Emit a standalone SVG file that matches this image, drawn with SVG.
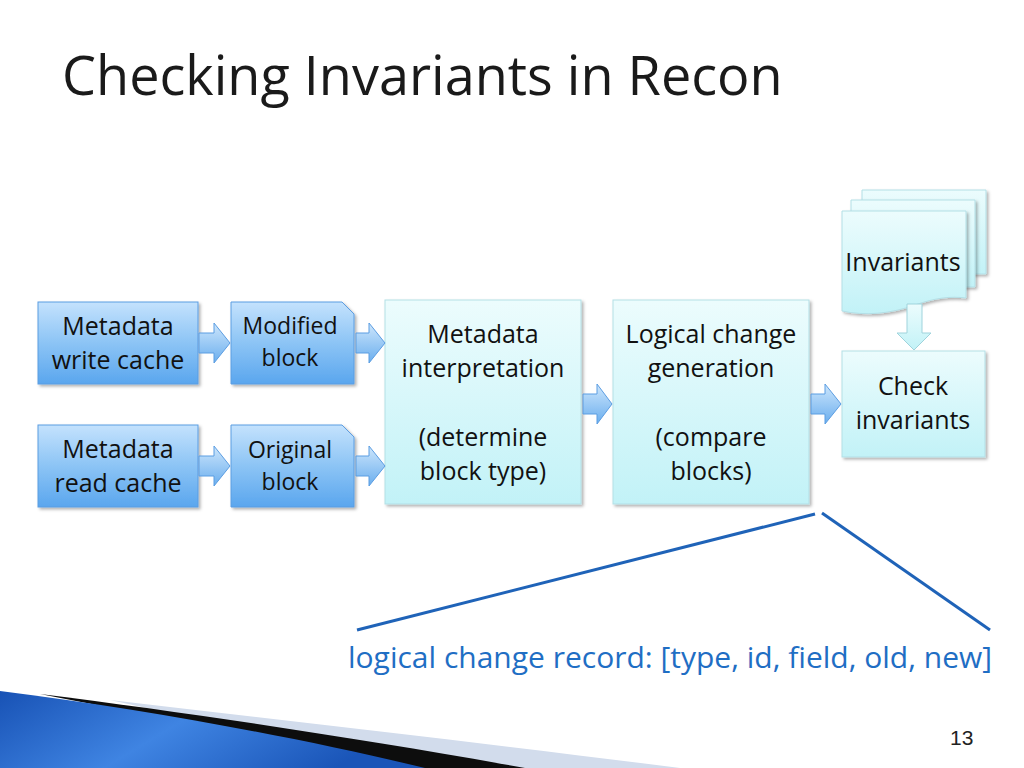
<svg xmlns="http://www.w3.org/2000/svg" width="1024" height="768" viewBox="0 0 1024 768">
<defs>
<linearGradient id="gBlue" x1="0" y1="0" x2="0" y2="1">
<stop offset="0" stop-color="#c4e2fd"/><stop offset="0.5" stop-color="#8cc4f5"/><stop offset="1" stop-color="#5aa6ee"/>
</linearGradient>
<linearGradient id="gCyan" x1="0" y1="0" x2="0" y2="1">
<stop offset="0" stop-color="#ecfcfd"/><stop offset="1" stop-color="#c2f2f7"/>
</linearGradient>
<linearGradient id="gArrow" x1="0" y1="0" x2="0" y2="1">
<stop offset="0" stop-color="#cde6fc"/><stop offset="1" stop-color="#6aaeee"/>
</linearGradient>
<linearGradient id="gSwoosh" x1="0" y1="0" x2="1" y2="0.3">
<stop offset="0" stop-color="#1852b5"/><stop offset="0.5" stop-color="#3f84e2"/><stop offset="1" stop-color="#1a55b8"/>
</linearGradient>
<filter id="sh" x="-10%" y="-10%" width="130%" height="130%">
<feDropShadow dx="2" dy="2" stdDeviation="1.5" flood-color="#000" flood-opacity="0.3"/>
</filter>
</defs>
<style>
.t{font-family:"Open Sans","Noto Sans",sans-serif;font-size:25px;fill:#111;text-anchor:middle}
.s{font-size:23px}
.blue{fill:url(#gBlue);stroke:#5b9de2;stroke-width:1;filter:url(#sh)}
.cyan{fill:url(#gCyan);stroke:#b3dfe6;stroke-width:1;filter:url(#sh)}
.arr{fill:url(#gArrow);stroke:#5b9de2;stroke-width:1}
.carr{fill:url(#gCyan);stroke:#9fd3dc;stroke-width:1}
</style>
<rect width="1024" height="768" fill="#fff"/>
<text x="62" y="95" font-family="Open Sans,Noto Sans,sans-serif" font-size="54" fill="#1a1a1a">Checking Invariants in Recon</text>

<g id="write-cache">
<rect class="blue" x="38" y="302" width="160" height="82"/>
<text class="t" x="118" y="335">Metadata</text>
<text class="t" x="118" y="369">write cache</text>
</g>
<g id="modified-block">
<path class="blue" d="M231,302 H342 L354,314 V384 H231 Z"/>
<text class="t s" x="290" y="334">Modified</text>
<text class="t s" x="290" y="366">block</text>
</g>
<g id="read-cache">
<rect class="blue" x="38" y="425" width="160" height="82"/>
<text class="t" x="118" y="458">Metadata</text>
<text class="t" x="118" y="492">read cache</text>
</g>
<g id="original-block">
<path class="blue" d="M231,425 H342 L354,437 V507 H231 Z"/>
<text class="t s" x="290" y="458">Original</text>
<text class="t s" x="290" y="490">block</text>
</g>
<g id="interpretation">
<rect class="cyan" x="385" y="300" width="196" height="204"/>
<text class="t" x="483" y="343">Metadata</text>
<text class="t" x="483" y="377">interpretation</text>
<text class="t" x="483" y="446">(determine</text>
<text class="t" x="483" y="480">block type)</text>
</g>
<g id="logical-change">
<rect class="cyan" x="613" y="300" width="196" height="204"/>
<text class="t" x="711" y="343">Logical change</text>
<text class="t" x="711" y="377">generation</text>
<text class="t" x="711" y="446">(compare</text>
<text class="t" x="711" y="480">blocks)</text>
</g>
<g id="check-invariants">
<rect class="cyan" x="842" y="351" width="143" height="106"/>
<text class="t" x="913" y="395">Check</text>
<text class="t" x="913" y="429">invariants</text>
</g>
<g id="invariants">
<path class="cyan" d="M862,190 H986 V274 H862 Z"/>
<path class="cyan" d="M851,200 H975 V287 H851 Z"/>
<path class="cyan" d="M842,211 H966 V298 C950,296 935,298 915,305 C890,314 865,316 842,311 Z"/>
<text class="t" x="903" y="271">Invariants</text>
</g>

<g id="connectors">
<path class="arr" d="M199,333 H214 V323 L230,343 L214,363 V353 H199 Z"/>
<path class="arr" d="M356,333 H369 V323 L385,343 L369,363 V353 H356 Z"/>
<path class="arr" d="M199,456 H214 V446 L230,466 L214,486 V476 H199 Z"/>
<path class="arr" d="M356,456 H369 V446 L385,466 L369,486 V476 H356 Z"/>
<path class="arr" d="M583,394 H597 V384 L612,404 L597,424 V414 H583 Z"/>
<path class="arr" d="M811,394 H825 V384 L841,404 L825,424 V414 H811 Z"/>
<path class="carr" d="M907,304 H922 V333 H931 L914,350 L897,333 H907 Z"/>
<line x1="357" y1="630" x2="815" y2="514" stroke="#1f63b8" stroke-width="3"/>
<line x1="822" y1="513" x2="990" y2="630" stroke="#1f63b8" stroke-width="3"/>
</g>

<text x="348" y="668" font-family="Open Sans,Noto Sans,sans-serif" font-size="30" fill="#1f6ec4">logical change record: [type, id, field, old, new]</text>

<g id="swoosh">
<path d="M110,700 C300,722 500,745 680,768 L420,768 Z" fill="#d2dcec"/>
<path d="M40,694 C200,714 380,742 525,768 L420,768 Z" fill="#0d0d0d"/>
<path d="M0,691 C150,710 300,738 425,768 L0,768 Z" fill="url(#gSwoosh)"/>
</g>
<text x="950" y="745" font-family="Liberation Sans,Arial,sans-serif" font-size="21" fill="#222">13</text>
</svg>
